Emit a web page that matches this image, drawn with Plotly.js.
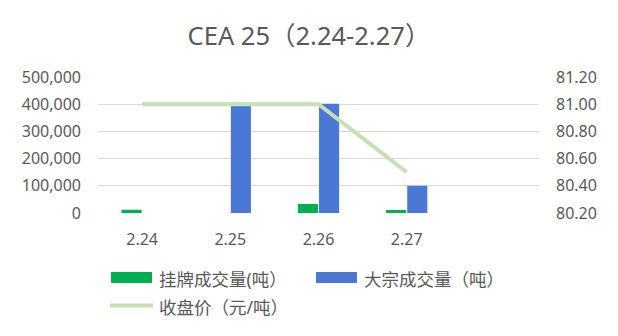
<!DOCTYPE html>
<html>
<head>
<meta charset="utf-8">
<script src="https://cdn.plot.ly/plotly-3.0.1.min.js"></script>
<style>html,body{margin:0;padding:0;background:#fff;}#chart{width:618px;height:336px;}</style>
</head>
<body>
<div id="chart"></div>
<script>
const categories = ["2.24", "2.25", "2.26", "2.27"];
const listedVolume = [12000, 0, 33000, 11000];
const blockVolume = [0, 393000, 402000, 100000];
const closePrice = [81.00, 81.00, 81.00, 80.50];
const seriesNames = ["挂牌成交量(吨）", "大宗成交量（吨）", "收盘价（元/吨）"];
const seriesColors = ["#00b050", "#4a78d4", "#c5e0b4"];

const FONT = "Noto Sans, Noto Sans CJK SC, sans-serif";
const TXT = "#595959";

const traces = [
  {type: "bar", name: seriesNames[0], x: categories, y: listedVolume, marker: {color: seriesColors[0]}, yaxis: "y"},
  {type: "bar", name: seriesNames[1], x: categories, y: blockVolume, marker: {color: seriesColors[1]}, yaxis: "y"},
  {type: "scatter", mode: "lines", name: seriesNames[2], x: categories, y: closePrice, yaxis: "y2",
   line: {color: seriesColors[2], width: 4}}
];

// plot area in pixels: x 98..539, y 77..213
const PX0 = 98, PW = 441, PY1 = 213, PH = 136;
const px = v => (v - PX0) / PW;
const py = v => (PY1 - v) / PH;

const legendItems = [
  {kind: "rect", x: 111, y: 277.5, tx: 157},
  {kind: "rect", x: 316, y: 277.5, tx: 362},
  {kind: "line", x: 110, y: 305.5, tx: 157}
];
const shapes = [];
const annotations = [];
legendItems.forEach((it, i) => {
  if (it.kind === "rect") {
    shapes.push({type: "rect", xref: "paper", yref: "paper", x0: px(it.x), x1: px(it.x + 41),
      y0: py(it.y + 5.5), y1: py(it.y - 5.5), fillcolor: seriesColors[i], line: {width: 0}});
  } else {
    shapes.push({type: "line", xref: "paper", yref: "paper", x0: px(it.x), x1: px(it.x + 43),
      y0: py(it.y), y1: py(it.y), line: {color: seriesColors[i], width: 4}});
  }
  annotations.push({xref: "paper", yref: "paper", x: px(it.tx), y: py(it.y + 1), xanchor: "left", yanchor: "middle",
    text: seriesNames[i], showarrow: false, font: {size: 17.5, color: TXT, family: FONT}});
});

const layout = {
  width: 618, height: 336,
  margin: {l: 98, r: 79, t: 77, b: 123},
  paper_bgcolor: "#fff", plot_bgcolor: "#fff",
  font: {family: FONT, color: TXT, size: 16},
  title: {text: "CEA 25（2.24-2.27）", font: {family: FONT, size: 25.5, color: TXT}, x: 0.5, xanchor: "center", y: 0.893, yanchor: "middle"},
  barmode: "group", bargap: 0.52, bargroupgap: 0.05,
  xaxis: {type: "category", range: [-0.5, 4.5], showgrid: false, zeroline: false, showline: false,
          ticks: "", ticklabelstandoff: 15, tickfont: {size: 16, color: TXT}, fixedrange: true},
  yaxis: {range: [0, 500000], dtick: 100000, tickformat: ",", showgrid: true, gridcolor: "#d9d9d9", gridwidth: 1,
          zeroline: false, showline: false, ticks: "", ticklabelstandoff: 16, tickfont: {size: 16, color: TXT}},
  yaxis2: {overlaying: "y", side: "right", range: [80.2, 81.2], dtick: 0.2, tickformat: ".2f", showgrid: false,
           zeroline: false, showline: false, ticks: "", ticklabelstandoff: 16, tickfont: {size: 16, color: TXT}},
  showlegend: false,
  shapes: shapes,
  annotations: annotations
};

Plotly.newPlot("chart", traces, layout, {displayModeBar: false, staticPlot: true});
</script>
</body>
</html>
